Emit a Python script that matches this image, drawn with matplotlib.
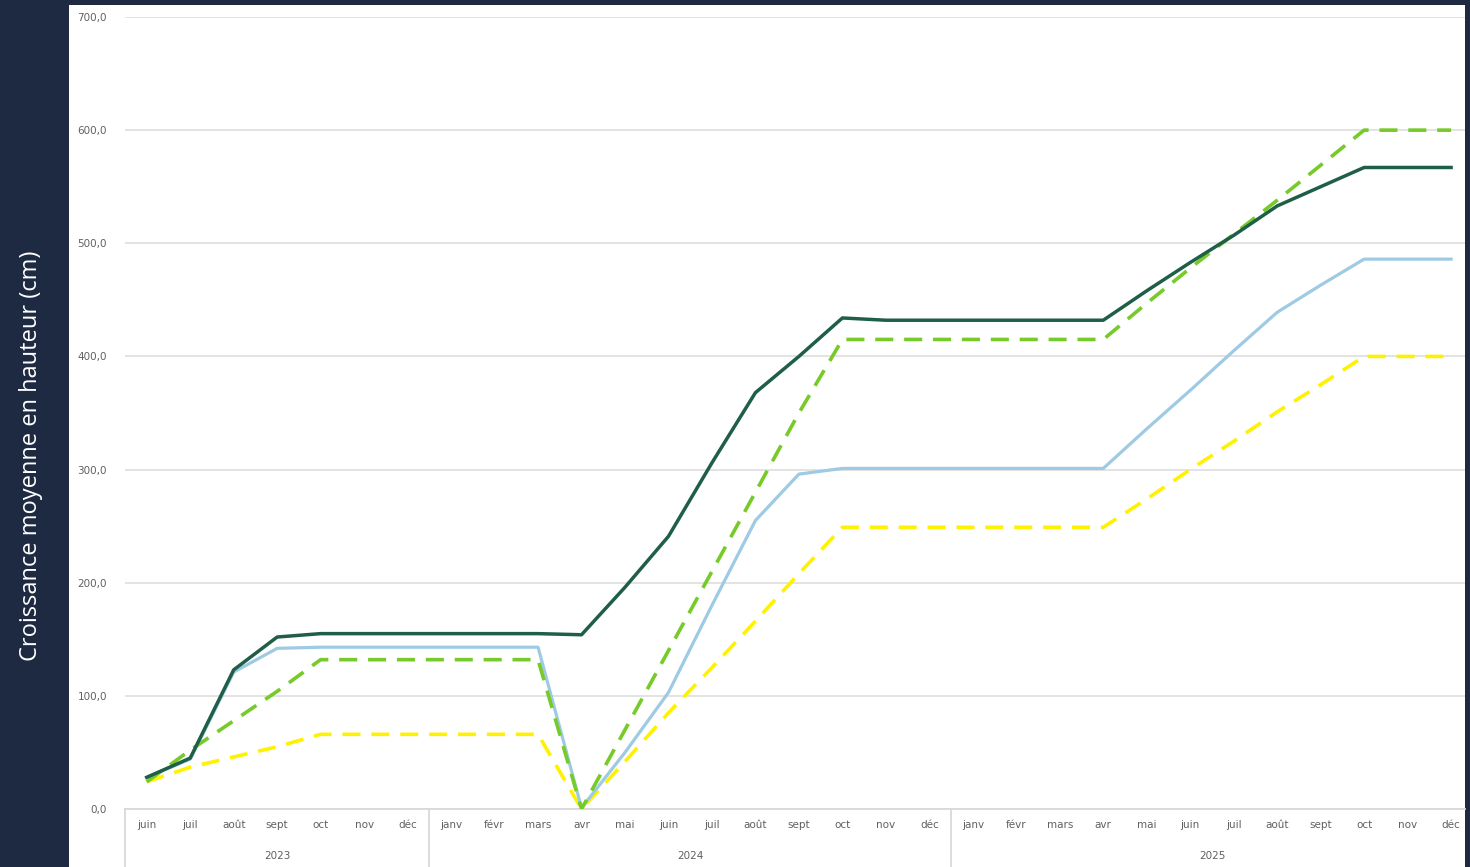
import matplotlib

matplotlib.use("Agg")
import matplotlib.pyplot as plt
from matplotlib.patches import Rectangle
import matplotlib.transforms as mtransforms

MONTHS = ["juin", "juil", "août", "sept", "oct", "nov", "déc",
          "janv", "févr", "mars", "avr", "mai", "juin", "juil", "août", "sept", "oct", "nov", "déc",
          "janv", "févr", "mars", "avr", "mai", "juin", "juil", "août", "sept", "oct", "nov", "déc"]
YEARS = ["2023", "2024", "2025"]
YEAR_SPANS = [(0, 6), (7, 18), (19, 30)]

DARK_GREEN = [28, 45, 123, 152, 155, 155, 155, 155, 155, 155, 154,
              196, 241, 306, 368, 400, 434, 432, 432, 432, 432, 432, 432,
              458, 483, 507, 533, 550, 567, 567, 567]
LIGHT_BLUE = [28, 44, 121, 142, 143, 143, 143, 143, 143, 143, 1,
              50, 103, 180, 255, 296, 301, 301, 301, 301, 301, 301, 301,
              336, 370, 405, 439, 463, 486, 486, 486]
LIME_DASH = [24, 52, 78, 104, 132, 132, 132, 132, 132, 132, 0,
             70, 140, 210, 280, 350, 415, 415, 415, 415, 415, 415, 415,
             447, 478, 508, 538, 569, 600, 600, 600]
YELLOW_DASH = [24, 37, 46, 55, 66, 66, 66, 66, 66, 66, 0,
               42, 85, 125, 166, 208, 249, 249, 249, 249, 249, 249, 249,
               274, 300, 325, 351, 375, 400, 400, 400]

NAVY = "#1e2a42"
W, H = 1470, 867

fig = plt.figure(figsize=(W / 100, H / 100), dpi=100, facecolor=NAVY)
fig.patches.append(Rectangle((69 / W, 0), (1465 - 69) / W, (H - 5) / H,
                             transform=fig.transFigure, facecolor="white",
                             edgecolor="none", zorder=-1))

ax = fig.add_axes([125 / W, (H - 809) / H, (1465 - 125) / W, (809 - 17) / H])
ax.set_facecolor("none")

x = list(range(len(MONTHS)))
ax.plot(x, YELLOW_DASH, color="#fff200", lw=2.6, dashes=(5, 3), zorder=3)
ax.plot(x, LIME_DASH, color="#76ca29", lw=2.6, dashes=(5, 3), zorder=4)
ax.plot(x, LIGHT_BLUE, color="#9ecae4", lw=2.3, zorder=3)
ax.plot(x, DARK_GREEN, color="#1f5e47", lw=2.5, zorder=5)

ax.set_xlim(-0.5, 30.32)
ax.set_ylim(0, 700)
ax.set_yticks(range(0, 701, 100))
ax.set_yticklabels([f"{v},0" for v in range(0, 701, 100)])
ax.grid(axis="y", color="#e0e0e0", lw=1.3)
ax.set_axisbelow(True)
for side in ["top", "right", "left"]:
    ax.spines[side].set_visible(False)
ax.spines["bottom"].set_color("#d9d9d9")
ax.spines["bottom"].set_linewidth(1.3)
ax.tick_params(axis="y", length=0, pad=13, labelsize=7.5, labelcolor="#606060")
ax.set_xticks(x, MONTHS)
ax.tick_params(axis="x", length=0, pad=8, labelsize=7.5, labelcolor="#606060")

trans = mtransforms.blended_transform_factory(ax.transData, ax.transAxes)
for xs in [-0.5, 6.5, 18.5]:
    ax.plot([xs, xs], [0, -0.08], color="#d9d9d9", lw=1.3, transform=trans, clip_on=False)
for year, (a, b) in zip(YEARS, YEAR_SPANS):
    ax.text((a + b) / 2, -0.059, year, transform=trans, ha="center", va="center",
            fontsize=7.5, color="#606060")

fig.text(31 / W, 1 - 456 / H, "Croissance moyenne en hauteur (cm)", rotation=90,
         ha="center", va="center", color="white", fontsize=17, family="Open Sans")

fig.savefig("out.png", dpi=100, facecolor=NAVY)
